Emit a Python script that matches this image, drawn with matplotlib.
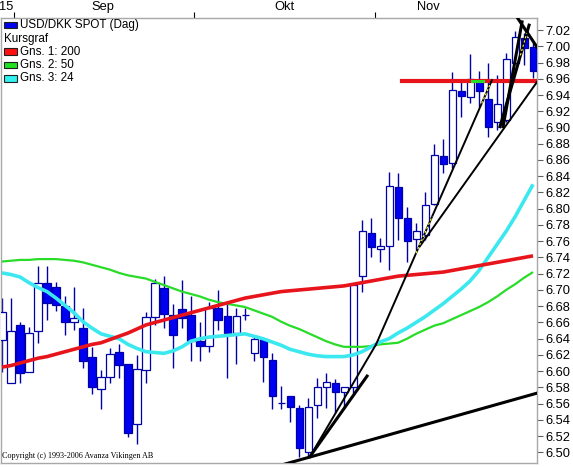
import matplotlib
matplotlib.use("Agg")
import matplotlib.pyplot as plt
from matplotlib.patches import Rectangle
from matplotlib.ticker import MultipleLocator, FormatStrFormatter

# USD/DKK daglige kurser (open, high, low, close)
opens = [6.639, 6.586, 6.657, 6.599, 6.650, 6.708, 6.704, 6.680, 6.661, 6.653,
         6.617, 6.578, 6.593, 6.624, 6.609, 6.535, 6.601, 6.667, 6.703, 6.669,
         6.677, 6.669, 6.637, 6.631, 6.678, 6.668, 6.647, 6.669, 6.623, 6.640,
         6.614, 6.561, 6.569, 6.555, 6.500, 6.559, 6.580, 6.585, 6.575, 6.580,
         6.717, 6.770, 6.751, 6.754, 6.827, 6.789, 6.763, 6.768, 6.806, 6.865,
         6.856, 6.945, 6.938, 6.956, 6.935, 6.907, 6.909, 6.979, 7.010, 6.999]
highs = [6.690, 6.690, 6.660, 6.655, 6.730, 6.729, 6.710, 6.692, 6.704, 6.678,
         6.630, 6.602, 6.628, 6.633, 6.609, 6.620, 6.673, 6.714, 6.717, 6.683,
         6.712, 6.692, 6.660, 6.685, 6.700, 6.684, 6.678, 6.678, 6.645, 6.642,
         6.623, 6.582, 6.569, 6.558, 6.567, 6.592, 6.598, 6.590, 6.581, 6.706,
         6.786, 6.788, 6.764, 6.845, 6.844, 6.802, 6.783, 6.820, 6.880, 6.886,
         6.968, 6.960, 6.990, 6.970, 6.979, 6.965, 6.992, 7.019, 7.016, 7.004]
lows = [6.599, 6.586, 6.586, 6.599, 6.635, 6.663, 6.674, 6.644, 6.651, 6.604,
        6.572, 6.553, 6.586, 6.592, 6.519, 6.510, 6.586, 6.657, 6.653, 6.604,
        6.653, 6.612, 6.612, 6.624, 6.651, 6.592, 6.609, 6.663, 6.612, 6.587,
        6.553, 6.553, 6.538, 6.494, 6.496, 6.543, 6.555, 6.549, 6.556, 6.573,
        6.697, 6.741, 6.735, 6.725, 6.762, 6.735, 6.749, 6.762, 6.805, 6.844,
        6.850, 6.913, 6.930, 6.925, 6.888, 6.897, 6.907, 6.978, 6.977, 6.961]
closes = [6.673, 6.649, 6.598, 6.647, 6.708, 6.684, 6.682, 6.660, 6.666, 6.613,
          6.581, 6.593, 6.621, 6.608, 6.524, 6.603, 6.667, 6.709, 6.671, 6.644,
          6.665, 6.637, 6.631, 6.678, 6.663, 6.647, 6.668, 6.669, 6.640, 6.617,
          6.569, 6.561, 6.556, 6.505, 6.556, 6.581, 6.587, 6.575, 6.580, 6.706,
          6.772, 6.753, 6.754, 6.828, 6.788, 6.760, 6.772, 6.805, 6.866, 6.855,
          6.946, 6.939, 6.960, 6.945, 6.901, 6.929, 6.984, 7.011, 6.998, 6.970]

# glidende gennemsnit, aflæst
gns_200 = [6.605, 6.607, 6.610, 6.613, 6.616, 6.618, 6.621, 6.624, 6.627, 6.630,
           6.633, 6.635, 6.639, 6.643, 6.647, 6.652, 6.657, 6.660, 6.663, 6.666,
           6.669, 6.672, 6.675, 6.678, 6.681, 6.684, 6.687, 6.690, 6.692, 6.694,
           6.696, 6.698, 6.699, 6.700, 6.701, 6.702, 6.703, 6.704, 6.705, 6.707,
           6.709, 6.711, 6.713, 6.715, 6.717, 6.718, 6.719, 6.720, 6.721, 6.722,
           6.724, 6.726, 6.728, 6.730, 6.732, 6.734, 6.736, 6.738, 6.740, 6.742]
gns_50 = [6.735, 6.736, 6.737, 6.737, 6.738, 6.738, 6.738, 6.737, 6.736, 6.734,
          6.731, 6.728, 6.725, 6.721, 6.718, 6.716, 6.714, 6.710, 6.706, 6.702,
          6.698, 6.695, 6.692, 6.688, 6.685, 6.683, 6.681, 6.679, 6.675, 6.671,
          6.667, 6.661, 6.656, 6.652, 6.647, 6.642, 6.637, 6.633, 6.630, 6.630,
          6.630, 6.631, 6.633, 6.634, 6.635, 6.640, 6.646, 6.651, 6.656, 6.659,
          6.664, 6.669, 6.674, 6.679, 6.685, 6.692, 6.700, 6.707, 6.715, 6.722]
gns_24 = [6.721, 6.719, 6.716, 6.709, 6.703, 6.698, 6.690, 6.681, 6.672, 6.661,
          6.653, 6.646, 6.643, 6.640, 6.633, 6.628, 6.624, 6.623, 6.622, 6.625,
          6.630, 6.637, 6.640, 6.642, 6.643, 6.644, 6.645, 6.646, 6.643, 6.640,
          6.636, 6.632, 6.627, 6.624, 6.621, 6.619, 6.618, 6.618, 6.618, 6.620,
          6.624, 6.630, 6.636, 6.640, 6.647, 6.653, 6.660, 6.667, 6.675, 6.683,
          6.692, 6.701, 6.711, 6.724, 6.740, 6.756, 6.772, 6.790, 6.810, 6.830]

# indtegnede trendlinjer: (x0, y0, x1, y1) i dag-indeks og kurs
trend_thick = [(30.89, 6.484, 59.44, 6.573),
               (34.22, 6.495, 40.56, 6.594),
               (55.33, 6.901, 58.56, 7.026),
               (55.67, 6.901, 57.78, 7.030),
               (57.33, 7.034, 59.56, 6.997)]
trend_thin = [(41.56, 6.633, 54.44, 6.9585),
              (34.22, 6.495, 41.56, 6.633),
              (46.44, 6.754, 59.44, 6.956)]
vandret_niveau = 6.957
vandret_fra = 44.44

month_labels = ["15", "Sep", "Okt", "Nov"]
legend_labels = ["USD/DKK SPOT (Dag)", "Kursgraf", "Gns. 1: 200", "Gns. 2: 50", "Gns. 3: 24"]

# farver
up_fill = "white"
down_fill = "#0000f0"
edge = "#0000a8"
red = "#e8141c"
green = "#28dc28"
cyan = "#3ce8f0"

W, H = 573, 467
fig = plt.figure(figsize=(W / 100, H / 100), dpi=100)
ax = fig.add_axes([1 / W, (H - 463) / H, 536 / W, 445 / H])

dage = list(range(len(opens)))

# lys
for i in dage:
    o, h, l, c = opens[i], highs[i], lows[i], closes[i]
    ax.vlines(i, l, h, color=edge, lw=1.0, zorder=2)
    op = c >= o
    ax.bar(i, abs(c - o), bottom=min(o, c), width=0.78,
           color=up_fill if op else down_fill, edgecolor=edge, lw=0.9, zorder=3)

ax.plot(dage, gns_50, color=green, lw=1.6, zorder=4, solid_capstyle="butt")
ax.plot(dage, gns_24, color=cyan, lw=2.6, zorder=4, solid_capstyle="butt")
ax.plot(dage, gns_200, color=red, lw=2.6, zorder=5, solid_capstyle="butt")

# vandret linje
ax.plot([vandret_fra, 59.44], [vandret_niveau, vandret_niveau], color=red, lw=3.0, zorder=6)
ax.plot([52.2, 53.4], [vandret_niveau, vandret_niveau], color=green, lw=2.2, zorder=6)

for x0, y0, x1, y1 in trend_thick:
    ax.plot([x0, x1], [y0, y1], color="black", lw=2.2, zorder=7)
for x0, y0, x1, y1 in trend_thin:
    ax.plot([x0, x1], [y0, y1], color="black", lw=1.4, zorder=7)


def paa_linje(seg, x):
    x0, y0, x1, y1 = seg
    return y0 + (x - x0) * (y1 - y0) / (x1 - x0)


# gule markeringer
a = trend_thin[0]
u = trend_thick[2]
for seg, xa, xb in [(a, 46.0, 47.8), (a, 53.3, 54.2), (u, 57.6, 58.3)]:
    ax.plot([xa, xb], [paa_linje(seg, xa), paa_linje(seg, xb)],
            color="#ffff40", lw=0.8, ls=(0, (2, 2)), zorder=8)

ax.set_xlim(-0.11, 59.44)
ax.set_ylim(6.487, 7.0348)

# akser
for s in ax.spines.values():
    s.set_color("#a8a8a8")
    s.set_linewidth(1.0)

ax.yaxis.tick_right()
ax.yaxis.set_major_locator(MultipleLocator(0.02))
ax.yaxis.set_major_formatter(FormatStrFormatter("%.2f"))
ax.tick_params(axis="y", which="major", direction="out", length=4, width=0.8,
               color="#606060", labelsize=9.3, pad=2, labelcolor="black")
for lbl in ax.get_yticklabels():
    lbl.set_fontfamily("Liberation Sans")

ax.xaxis.tick_top()
ax.set_xticks([1.33, 21.33, 41.44])
ax.set_xticklabels([])
ax.set_xticks([0.45, 11.22, 31.33, 47.33], minor=True)
ax.set_xticklabels(month_labels, minor=True)
ax.tick_params(axis="x", which="major", direction="out", length=4, width=0.8, color="black")
ax.tick_params(axis="x", which="minor", length=0, labelsize=9.3, pad=3.5)
for lbl in ax.get_xticklabels(minor=True):
    lbl.set_fontfamily("Liberation Sans")

# forklaring
def fx(x):
    return x / W

def fy(y):
    return 1 - y / H

swatches = [(legend_labels[0], down_fill, 25.0),
            (legend_labels[2], "#ff1010", 51.7),
            (legend_labels[3], "#20e020", 65.0),
            (legend_labels[4], "#30f0f0", 78.3)]
for txt, col, yc in swatches:
    fig.patches.append(Rectangle((fx(3.5), fy(yc + 3.3)), 13.5 / W, 6.6 / H,
                                 transform=fig.transFigure, facecolor=col,
                                 edgecolor="#202020", lw=0.8, zorder=10))
    fig.text(fx(20), fy(yc), txt, fontsize=8.4, family="Liberation Sans",
             va="center", ha="left", zorder=10)
fig.text(fx(4), fy(39.3), legend_labels[1], fontsize=8.4, family="Liberation Sans",
         va="center", ha="left", zorder=10)

fig.text(fx(2), fy(458), "Copyright (c) 1993-2006 Avanza Vikingen AB",
         fontsize=5.9, family="Liberation Serif", va="baseline", ha="left")

fig.savefig("out.png", dpi=100)
